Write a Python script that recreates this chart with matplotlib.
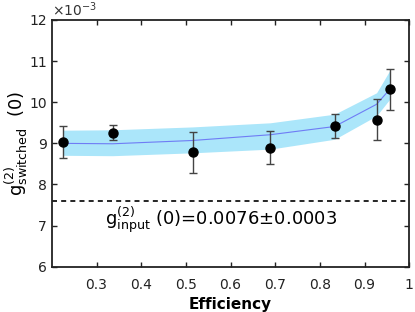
import matplotlib
matplotlib.use("Agg")
import matplotlib.pyplot as plt
import numpy as np

# measured points (g2 in units of 1e-3)
efficiency = [0.224, 0.336, 0.515, 0.689, 0.833, 0.927, 0.957]
g2_meas = [9.03, 9.26, 8.78, 8.89, 9.42, 9.57, 10.31]
g2_err = [0.39, 0.19, 0.50, 0.40, 0.30, 0.50, 0.50]

# model curve and its band
g2_model = [9.00, 8.99, 9.07, 9.21, 9.41, 9.95, 10.32]
band_low = [8.71, 8.70, 8.77, 8.86, 9.10, 9.67, 10.08]
band_high = [9.32, 9.33, 9.40, 9.50, 9.71, 10.23, 10.78]

g2_input = 7.6

xticks = [0.3, 0.4, 0.5, 0.6, 0.7, 0.8, 0.9, 1.0]
xticklabels = ["0.3", "0.4", "0.5", "0.6", "0.7", "0.8", "0.9", "1"]
yticks = [6, 7, 8, 9, 10, 11, 12]

fig = plt.figure(figsize=(4.15, 3.12), dpi=100)
ax = fig.add_axes([0.125, 0.145, 0.861, 0.791])

ax.fill_between(efficiency, band_low, band_high, color="#abe6fa", linewidth=0)
ax.plot(efficiency, g2_model, color="#6f7cf5", linewidth=0.8)
ax.errorbar(efficiency, g2_meas, yerr=g2_err, fmt="o", color="black",
            ecolor="#444444", elinewidth=1.0, capsize=3, capthick=1.0,
            markersize=6.5)
ax.axhline(g2_input, color="black", linestyle=(0, (3, 2.5)), linewidth=1.2)

ax.text(0.318, 7.15,
        r"$\mathregular{g^{(2)}_{input}}$ (0)=0.0076$\pm$0.0003",
        fontsize=13, va="center", ha="left")

ax.set_xlim(0.2, 1.0)
ax.set_ylim(6, 12)
ax.set_xticks(xticks)
ax.set_xticklabels(xticklabels)
ax.set_yticks(yticks)
ax.tick_params(direction="in", top=True, right=True, length=3.5,
               width=1.0, labelsize=10, colors="#222222")
ax.tick_params(axis="x", pad=8)
for s in ax.spines.values():
    s.set_linewidth(1.3)
    s.set_color("#222222")

ax.text(0.0, 1.005, r"$\times10^{-3}$", transform=ax.transAxes,
        fontsize=10, color="#333333", va="bottom", ha="left")

ax.set_xlabel("Efficiency", fontsize=11, fontweight="bold", labelpad=4)
ax.set_ylabel(r"$\mathregular{g^{(2)}_{switched}}$  (0)", fontsize=13,
              va="center")
ax.yaxis.set_label_coords(-0.1, 0.5)

fig.savefig("out.png", dpi=100)
